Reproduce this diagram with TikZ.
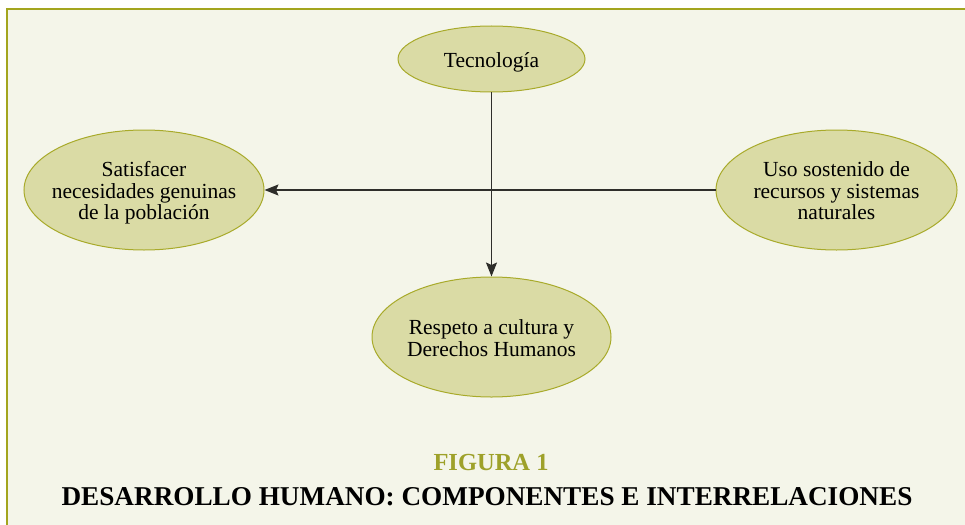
\documentclass[tikz,border=0pt]{standalone}
\usepackage{fontspec}
\setmainfont{Liberation Serif}
\usetikzlibrary{shapes.geometric,arrows.meta}
\definecolor{bgc}{HTML}{F4F5E9}
\definecolor{framec}{HTML}{A3A51E}
\definecolor{ellfill}{HTML}{DADBA5}
\definecolor{elldraw}{HTML}{A8AA2A}
\definecolor{figc}{HTML}{9EA12A}
\definecolor{linec}{HTML}{2E2E2A}
\newcommand\zwtext[1]{\makebox[0pt]{\raisebox{-4pt}[\height][\depth]{\begin{tabular}{@{}c@{}}#1\end{tabular}}}}
\tikzset{
  bubble/.style={ellipse, draw=elldraw, fill=ellfill, line width=1pt, inner sep=0pt,
    font=\fontsize{21.5}{21.5}\selectfont},
  link/.style={draw=linec, line width=1.3pt, -{Stealth[length=14pt,width=11pt,inset=2.5pt]}}
}
\begin{document}
\begin{tikzpicture}[x=1pt,y=-1pt]
\useasboundingbox (0,0) rectangle (965,524);
\clip (0,0) rectangle (965,524);
\fill[white] (0,0) rectangle (965,524);
\draw[framec, fill=bgc, line width=1.5pt] (7,9) rectangle (985,540);
\node[bubble, minimum width=187pt, minimum height=66pt] (tec) at (491.5,59) {\zwtext{Tecnología}};
\node[bubble, minimum width=240pt, minimum height=120pt] (sat) at (144,190) {\zwtext{Satisfacer\\necesidades genuinas\\de la población}};
\node[bubble, minimum width=241pt, minimum height=120pt] (uso) at (836.5,190) {\zwtext{Uso sostenido de\\recursos y sistemas\\naturales}};
\node[bubble, minimum width=239pt, minimum height=120pt] (res) at (491.5,337) {\zwtext{Respeto a cultura y\\Derechos Humanos}};
\draw[link] (tec) -- (res);
\draw[link] (uso) -- (sat);
\node[font=\bfseries\fontsize{24.5}{24}\selectfont, text=figc] (fig) at (491,463) {FIGURA 1};
\node[font=\bfseries\fontsize{27.2}{26}\selectfont] (title) at (487,497) {DESARROLLO HUMANO: COMPONENTES E INTERRELACIONES};
\end{tikzpicture}
\end{document}
